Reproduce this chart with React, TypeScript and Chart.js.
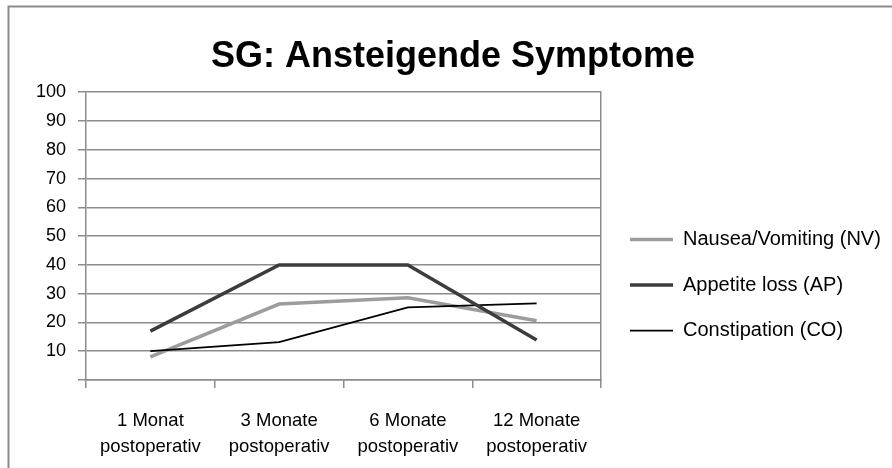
import React, { useEffect, useRef } from 'react';
import { Chart, registerables } from 'chart.js';

Chart.register(...registerables);

const titleText = 'SG: Ansteigende Symptome';
const categories = [
  ['1 Monat', 'postoperativ'],
  ['3 Monate', 'postoperativ'],
  ['6 Monate', 'postoperativ'],
  ['12 Monate', 'postoperativ'],
];
const seriesNames = ['Nausea/Vomiting (NV)', 'Appetite loss (AP)', 'Constipation (CO)'];
const nauseaVomiting = [8, 26.4, 28.6, 20.6];
const appetiteLoss = [17, 40, 40, 13.9];
const constipation = [10, 13.2, 25.2, 26.6];
const yMin = 0;
const yMax = 100;
const yStep = 10;

const FONT = "'Liberation Sans', Arial, sans-serif";
const GRID = '#8c8c8c';

const framePlugin = {
  id: 'frame',
  beforeDraw(chart: any) {
    const ctx = chart.ctx;
    ctx.save();
    ctx.fillStyle = '#ffffff';
    ctx.fillRect(0, 0, chart.width, chart.height);
    ctx.strokeStyle = '#8c8c8c';
    ctx.lineWidth = 2;
    ctx.beginPath();
    ctx.moveTo(8.5, chart.height + 4);
    ctx.lineTo(8.5, 6.5);
    ctx.lineTo(chart.width + 4, 6.5);
    ctx.stroke();
    ctx.restore();
  },
};

const sideLegendPlugin = {
  id: 'sideLegend',
  afterDraw(chart: any) {
    const ctx = chart.ctx;
    const area = chart.chartArea;
    ctx.save();
    ctx.font = `20px ${FONT}`;
    ctx.textBaseline = 'middle';
    ctx.textAlign = 'left';
    chart.data.datasets.forEach((ds: any, i: number) => {
      const y = 239.5 + i * 45.5;
      const x0 = area.right + 29;
      ctx.strokeStyle = ds.borderColor;
      ctx.lineWidth = ds.borderWidth;
      ctx.lineCap = 'butt';
      ctx.beginPath();
      ctx.moveTo(x0, y);
      ctx.lineTo(x0 + 43, y);
      ctx.stroke();
      ctx.fillStyle = '#000000';
      ctx.fillText(ds.label, x0 + 53, y);
    });
    ctx.restore();
  },
};

export default function App() {
  const canvasRef = useRef<HTMLCanvasElement | null>(null);

  useEffect(() => {
    if (!canvasRef.current) return;
    const chart = new Chart(canvasRef.current, {
      type: 'line',
      data: {
        labels: categories,
        datasets: [
          {
            label: seriesNames[0],
            data: nauseaVomiting,
            borderColor: '#9c9c9c',
            backgroundColor: '#9c9c9c',
            borderWidth: 3.5,
            pointRadius: 0,
            tension: 0,
            borderJoinStyle: 'miter',
            order: 2,
          },
          {
            label: seriesNames[1],
            data: appetiteLoss,
            borderColor: '#3c3c3c',
            backgroundColor: '#3c3c3c',
            borderWidth: 3.5,
            pointRadius: 0,
            tension: 0,
            borderJoinStyle: 'miter',
            order: 0,
          },
          {
            label: seriesNames[2],
            data: constipation,
            borderColor: '#000000',
            backgroundColor: '#000000',
            borderWidth: 1.75,
            pointRadius: 0,
            tension: 0,
            borderJoinStyle: 'miter',
            order: 1,
          },
        ],
      },
      options: {
        responsive: false,
        animation: false,
        devicePixelRatio: 1,
        layout: { padding: { left: 14, right: 0, top: 0, bottom: 0 } },
        plugins: {
          legend: { display: false },
          tooltip: { enabled: false },
          title: {
            display: true,
            text: titleText,
            color: '#000000',
            font: { family: FONT, size: 36, weight: 'bold', lineHeight: 1.2 },
            padding: { top: 35, bottom: 14 },
          },
        },
        scales: {
          x: {
            offset: true,
            grid: {
              offset: true,
              drawOnChartArea: false,
              tickLength: 8,
              color: GRID,
              lineWidth: 1.5,
            },
            border: { color: GRID, width: 1.5 },
            ticks: {
              padding: 19,
              color: '#000000',
              maxRotation: 0,
              autoSkip: false,
              font: { family: FONT, size: 18.5, lineHeight: 1.45 },
            },
            afterFit: (s: any) => {
              s.height = 88;
            },
          },
          y: {
            min: yMin,
            max: yMax,
            ticks: {
              stepSize: yStep,
              padding: 12,
              color: '#000000',
              font: { family: FONT, size: 18 },
              callback: (v: any) => (v === 0 ? '' : String(v)),
            },
            grid: { color: GRID, lineWidth: 1.5, tickLength: 8, tickColor: GRID },
            border: { color: GRID, width: 1.5 },
            afterFit: (s: any) => {
              s.width = 72;
            },
          },
          yRight: {
            position: 'right',
            display: true,
            grid: { display: false },
            ticks: { display: false },
            border: { display: true, color: GRID, width: 1.5 },
            afterFit: (s: any) => {
              s.width = 291;
            },
          },
        },
      },
      plugins: [framePlugin, sideLegendPlugin],
    } as any);
    return () => chart.destroy();
  }, []);

  return (
    <div style={{ position: 'fixed', left: 0, top: 0, width: 892, height: 468, background: '#fff' }}>
      <canvas ref={canvasRef} width={892} height={468} style={{ display: 'block' }} />
    </div>
  );
}
